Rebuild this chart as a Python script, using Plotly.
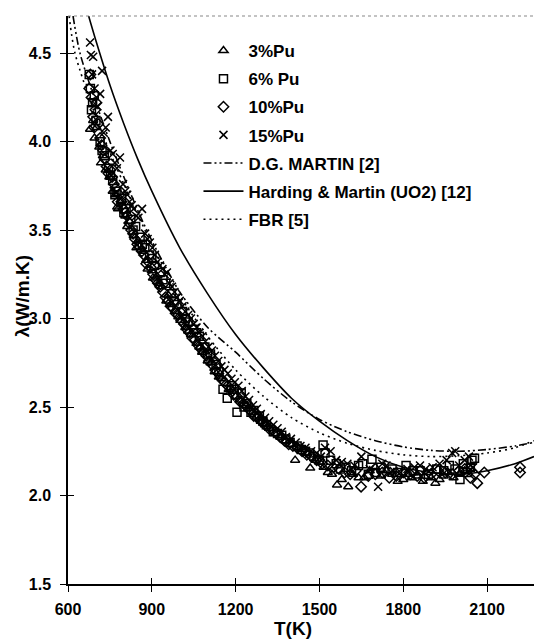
import plotly.graph_objects as go

# ---- data ----
T3 = [679, 690, 702, 712, 718, 735, 748, 760, 776, 779, 790, 805, 820, 835, 850, 868, 885, 900, 904, 918, 935, 952, 968, 985, 1002, 1020, 1040, 1060, 1080, 1100, 1125, 1150, 1175, 1200, 1230, 1260, 1290, 1320, 1360, 1400, 1413, 1440, 1467, 1500, 1530, 1563, 1603, 1640, 1680, 1720, 1760, 1800, 1830, 1870, 1900, 1930, 1960, 2000, 2040,
      695, 725, 770, 812, 845, 880, 925, 960, 995, 1030, 1070, 1110, 1140, 1190, 1215, 1245, 1275, 1305, 1340, 1380, 1425, 1455, 1485, 1515, 1545, 1580, 1620, 1660, 1700, 1740, 1780, 1815, 1850, 1885, 1915, 1945, 1980, 2020]
L3 = [4.07, 4.12, 4.08, 3.97, 3.88, 3.84, 3.80, 3.72, 3.63, 3.62, 3.66, 3.58, 3.55, 3.47, 3.44, 3.38, 3.28, 3.27, 3.23, 3.24, 3.18, 3.10, 3.08, 3.04, 2.99, 2.95, 2.91, 2.86, 2.81, 2.76, 2.70, 2.66, 2.60, 2.56, 2.52, 2.47, 2.42, 2.38, 2.33, 2.29, 2.20, 2.26, 2.155, 2.19, 2.13, 2.06, 2.05, 2.10, 2.14, 2.11, 2.12, 2.09, 2.10, 2.08, 2.10, 2.09, 2.13, 2.12, 2.15,
      4.02, 3.92, 3.70, 3.52, 3.40, 3.33, 3.20, 3.13, 3.01, 2.93, 2.84, 2.75, 2.67, 2.59, 2.54, 2.49, 2.45, 2.40, 2.35, 2.31, 2.27, 2.24, 2.20, 2.16, 2.12, 2.09, 2.12, 2.10, 2.16, 2.14, 2.08, 2.12, 2.11, 2.13, 2.07, 2.11, 2.10, 2.14]

T6 = [676, 680, 688, 700, 715, 730, 745, 760, 775, 792, 808, 825, 842, 858, 875, 892, 910, 930, 950, 970, 990, 1010, 1030, 1050, 1070, 1090, 1110, 1130, 1155, 1170, 1185, 1205, 1220, 1240, 1265, 1285, 1310, 1335, 1365, 1395, 1420, 1450, 1480, 1513, 1520, 1560, 1595, 1640, 1688, 1700, 1760, 1810, 1860, 1920, 1965, 2003, 2030, 2046,
      684, 694, 722, 752, 768, 800, 833, 866, 900, 940, 980, 1020, 1060, 1100, 1140, 1195, 1230, 1255, 1298, 1350, 1380, 1435, 1465, 1500, 1540, 1575, 1615, 1655, 1675, 1720, 1780, 1835, 1890, 1945, 1985, 2015, 2040, 2055]
L6 = [4.38, 4.30, 4.22, 4.12, 4.00, 3.92, 3.85, 3.78, 3.72, 3.68, 3.62, 3.56, 3.52, 3.46, 3.40, 3.36, 3.30, 3.26, 3.20, 3.14, 3.08, 3.04, 2.98, 2.94, 2.90, 2.84, 2.80, 2.74, 2.60, 2.55, 2.62, 2.47, 2.58, 2.52, 2.48, 2.45, 2.40, 2.36, 2.34, 2.30, 2.28, 2.25, 2.22, 2.285, 2.24, 2.18, 2.16, 2.17, 2.205, 2.13, 2.15, 2.17, 2.14, 2.15, 2.17, 2.09, 2.13, 2.20,
      4.18, 4.26, 3.95, 3.81, 3.70, 3.60, 3.50, 3.42, 3.34, 3.22, 3.10, 3.00, 2.92, 2.80, 2.70, 2.60, 2.50, 2.47, 2.42, 2.35, 2.32, 2.26, 2.24, 2.20, 2.20, 2.15, 2.14, 2.18, 2.12, 2.16, 2.13, 2.14, 2.12, 2.14, 2.15, 2.18, 2.16, 2.21]

T10 = [676, 684, 690, 698, 708, 720, 732, 745, 758, 770, 784, 798, 812, 826, 840, 856, 872, 888, 905, 922, 940, 958, 976, 995, 1015, 1035, 1055, 1075, 1095, 1115, 1138, 1160, 1182, 1205, 1228, 1252, 1278, 1305, 1332, 1360, 1390, 1420, 1455, 1490, 1530, 1570, 1610, 1649, 1700, 1750, 1800, 1850, 1900, 1950, 2000, 2040, 2065, 2090, 2218, 2218,
       680, 694, 702, 715, 726, 738, 752, 764, 778, 791, 805, 819, 833, 848, 864, 880, 896, 913, 930, 949, 967, 985, 1005, 1025, 1045, 1065, 1085, 1105, 1127, 1149, 1171, 1193, 1216, 1240, 1265, 1291, 1318, 1346, 1375, 1405, 1438, 1472, 1510, 1550, 1590, 1630, 1675, 1725, 1775, 1825, 1875, 1925, 1975, 2020, 2055]
L10 = [4.30, 4.25, 4.14, 4.18, 4.10, 3.98, 3.90, 3.82, 3.80, 3.74, 3.70, 3.62, 3.58, 3.50, 3.45, 3.40, 3.36, 3.32, 3.25, 3.20, 3.15, 3.10, 3.06, 3.02, 2.97, 2.92, 2.88, 2.83, 2.79, 2.74, 2.69, 2.64, 2.60, 2.56, 2.52, 2.48, 2.44, 2.40, 2.37, 2.33, 2.29, 2.27, 2.23, 2.20, 2.17, 2.15, 2.12, 2.05, 2.12, 2.10, 2.13, 2.11, 2.12, 2.13, 2.14, 2.10, 2.07, 2.13, 2.16, 2.13,
       4.38, 4.08, 4.22, 4.02, 3.95, 3.86, 3.84, 3.76, 3.66, 3.66, 3.60, 3.54, 3.48, 3.42, 3.38, 3.31, 3.29, 3.22, 3.18, 3.12, 3.07, 3.03, 2.99, 2.94, 2.89, 2.85, 2.81, 2.76, 2.71, 2.66, 2.62, 2.57, 2.53, 2.50, 2.45, 2.42, 2.38, 2.35, 2.31, 2.28, 2.25, 2.22, 2.18, 2.16, 2.13, 2.14, 2.11, 2.13, 2.11, 2.12, 2.10, 2.14, 2.12, 2.15, 2.12]

T15 = [679, 682, 690, 715, 722, 735, 743, 760, 775, 786, 805, 820, 835, 852, 865, 885, 902, 920, 938, 954, 972, 990, 1010, 1030, 1050, 1070, 1092, 1115, 1138, 1160, 1185, 1210, 1235, 1262, 1290, 1320, 1350, 1380, 1415, 1450, 1490, 1520, 1560, 1600, 1650, 1710, 1740, 1790, 1840, 1880, 1930, 1975, 1986, 2020, 2050,
       686, 695, 705, 728, 752, 768, 797, 812, 828, 844, 876, 893, 911, 929, 946, 963, 981, 1000, 1020, 1040, 1060, 1081, 1103, 1126, 1149, 1172, 1197, 1222, 1248, 1276, 1305, 1335, 1365, 1398, 1432, 1470, 1505, 1540, 1580, 1625, 1680, 1725, 1765, 1815, 1860, 1905, 1955, 2000, 2035]
L15 = [4.56, 4.49, 4.48, 4.27, 4.40, 4.08, 4.14, 3.93, 3.85, 3.91, 3.72, 3.66, 3.62, 3.57, 3.62, 3.45, 3.40, 3.32, 3.28, 3.26, 3.18, 3.12, 3.07, 3.02, 2.97, 2.92, 2.87, 2.82, 2.76, 2.71, 2.66, 2.62, 2.56, 2.51, 2.46, 2.42, 2.38, 2.33, 2.30, 2.27, 2.24, 2.27, 2.20, 2.18, 2.22, 2.05, 2.17, 2.13, 2.16, 2.15, 2.18, 2.24, 2.25, 2.20, 2.16,
       4.38, 4.30, 4.20, 4.05, 3.95, 3.88, 3.76, 3.70, 3.64, 3.58, 3.48, 3.43, 3.36, 3.30, 3.25, 3.20, 3.15, 3.10, 3.04, 3.00, 2.95, 2.90, 2.84, 2.79, 2.73, 2.69, 2.64, 2.59, 2.54, 2.49, 2.44, 2.40, 2.36, 2.32, 2.28, 2.25, 2.22, 2.25, 2.19, 2.17, 2.15, 2.18, 2.14, 2.15, 2.17, 2.16, 2.20, 2.17, 2.22]

T_martin = [618, 643, 700, 750, 800, 850, 900, 950, 1000, 1100, 1200, 1300, 1400, 1500, 1600, 1700, 1800, 1900, 2000, 2100, 2200, 2268]
L_martin = [4.71, 4.50, 4.22, 4.00, 3.80, 3.61, 3.44, 3.29, 3.15, 2.95, 2.81, 2.66, 2.53, 2.43, 2.36, 2.31, 2.275, 2.255, 2.25, 2.26, 2.28, 2.30]

T_hm = [672, 700, 750, 800, 850, 900, 1000, 1100, 1200, 1300, 1400, 1500, 1600, 1700, 1800, 1900, 2000, 2100, 2200, 2268]
L_hm = [4.72, 4.57, 4.32, 4.10, 3.90, 3.72, 3.40, 3.14, 2.91, 2.72, 2.55, 2.42, 2.31, 2.22, 2.16, 2.13, 2.12, 2.14, 2.18, 2.22]

T_fbr = [604, 625, 700, 750, 800, 900, 1000, 1100, 1200, 1300, 1400, 1500, 1600, 1700, 1800, 1900, 2000, 2100, 2200, 2268]
L_fbr = [4.71, 4.50, 4.14, 3.94, 3.76, 3.42, 3.13, 2.90, 2.71, 2.56, 2.44, 2.355, 2.295, 2.255, 2.23, 2.22, 2.225, 2.24, 2.27, 2.31]

x_ticks = [600, 900, 1200, 1500, 1800, 2100]
y_ticks = [1.5, 2.0, 2.5, 3.0, 3.5, 4.0, 4.5]

FONT = "Liberation Sans, Arial, sans-serif"
fig = go.Figure()

marker_series = [
    (T3, L3, "3%Pu", "triangle-up-open"),
    (T6, L6, "6% Pu", "square-open"),
    (T10, L10, "10%Pu", "diamond-open"),
    (T15, L15, "15%Pu", "x-thin-open"),
]
for i, (tx, ly, name, sym) in enumerate(marker_series):
    fig.add_trace(go.Scatter(
        x=tx, y=ly, mode="markers", name=name, legendgroup=f"g{i}",
        marker=dict(symbol=sym, size=8, color="black",
                    line=dict(color="black", width=1.5)),
    ))

line_series = [
    (T_martin, L_martin, "D.G. MARTIN [2]", "8px,3px,2px,3px,2px,3px"),
    (T_hm, L_hm, "Harding & Martin (UO2) [12]", "solid"),
    (T_fbr, L_fbr, "FBR [5]", "2px,4px"),
]
for j, (tx, ly, name, dash) in enumerate(line_series):
    fig.add_trace(go.Scatter(
        x=tx, y=ly, mode="lines", name=name, legendgroup=f"l{j}",
        line=dict(color="black", width=1.6, dash=dash, shape="spline", smoothing=0.8),
    ))

xr = [600, 2268]
yr = [1.5, 4.71]
tickfont = dict(family=FONT, size=16, color="black", weight="bold")
titlefont = dict(family=FONT, size=19, color="black", weight="bold")

fig.update_layout(
    width=534, height=639,
    margin=dict(l=68, r=0, t=16, b=55, autoexpand=False),
    paper_bgcolor="white", plot_bgcolor="white",
    showlegend=True,
    legend=dict(x=0.28, y=0.970, xanchor="left", yanchor="top",
                bgcolor="rgba(0,0,0,0)", tracegroupgap=3, itemwidth=40,
                font=dict(family=FONT, size=17, color="black", weight="bold")),
    xaxis=dict(range=xr, tickvals=x_ticks, ticks="outside", ticklen=6, tickwidth=1.2,
               tickcolor="black", showline=True, linecolor="black", linewidth=1.5,
               showgrid=False, zeroline=False, tickfont=tickfont, ticklabelstandoff=4,
               automargin=False),
    yaxis=dict(range=yr, tickvals=y_ticks, tickformat=".1f", ticks="outside", ticklen=6,
               tickwidth=1.2, tickcolor="black", showline=True, linecolor="black",
               linewidth=1.5, showgrid=False, zeroline=False, tickfont=tickfont,
               ticklabelstandoff=6, automargin=False),
    xaxis2=dict(range=xr, tickvals=x_ticks, overlaying="x", side="bottom", ticks="inside",
                ticklen=6, tickwidth=1.2, tickcolor="black", showticklabels=False,
                showgrid=False, zeroline=False, showline=False, automargin=False),
    yaxis2=dict(range=yr, tickvals=y_ticks, overlaying="y", side="left", ticks="inside",
                ticklen=6, tickwidth=1.2, tickcolor="black", showticklabels=False,
                showgrid=False, zeroline=False, showline=False, automargin=False),
    shapes=[dict(type="line", xref="paper", yref="paper", x0=0, x1=1, y0=1, y1=1,
                 line=dict(color="#888888", width=1.2, dash="dot"))],
    annotations=[
        dict(text="T(K)", xref="paper", yref="paper", x=0.483, y=-0.0775,
             xanchor="center", yanchor="middle", showarrow=False, font=titlefont),
        dict(text="λ(W/m.K)", xref="paper", yref="paper", x=-0.098, y=0.507,
             xanchor="center", yanchor="middle", textangle=-90, showarrow=False,
             font=titlefont),
    ],
)
fig.add_trace(go.Scatter(x=[None], y=[None], xaxis="x2", yaxis="y2", showlegend=False,
                         hoverinfo="skip"))

fig.write_html("out.html", config={"displayModeBar": False},
               post_script="document.body.style.margin='0';document.body.style.padding='0';")
